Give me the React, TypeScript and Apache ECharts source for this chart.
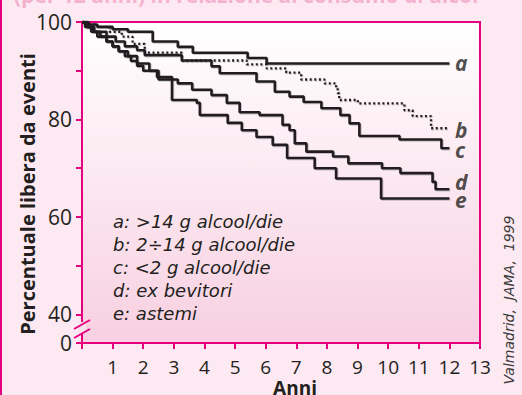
import React, { useEffect, useRef } from "react";
import * as echarts from "echarts";

const years: number[] = [0, 1, 2, 3, 4, 5, 6, 7, 8, 9, 10, 11, 12, 13];
const yTickLabels: string[] = ["0", "40", "60", "80", "100"];
const curveNames: string[] = ["a", "b", "c", "d", "e"];
const legendLines: string[] = [
  "a: >14 g alcool/die",
  "b: 2÷14 g alcool/die",
  "c: <2 g alcool/die",
  "d: ex bevitori",
  "e: astemi",
];

const serieA: [number, number][] = [
  [0, 100], [0.15, 99.5], [0.5, 99], [1.0, 98.5], [1.5, 98], [2.31, 96], [3.13, 94.9],
  [3.62, 93.7], [5.41, 92.6], [6.03, 91.5], [12.0, 91.5],
];
const serieB: [number, number][] = [
  [0, 100], [0.2, 99.5], [0.5, 99], [0.9, 98], [1.3, 97], [1.65, 95.5], [2.05, 93.7],
  [3.26, 92.1], [5.38, 91.3], [6.03, 90.5], [6.67, 89.6], [7.16, 88.2], [7.92, 87.4],
  [8.3, 86.4], [8.35, 85.4], [8.4, 84.0], [9.01, 83.3], [10.53, 81.9], [10.8, 80.7],
  [11.4, 78.2], [12.0, 78.2],
];
const serieC: [number, number][] = [
  [0, 100], [0.2, 99], [0.4, 98], [0.8, 97], [1.1, 96], [1.4, 95], [1.8, 94.2], [2.05, 93.2],
  [3.26, 92.1], [4.23, 90.9], [4.5, 89.5], [5.7, 87.8], [6.3, 85.7], [6.78, 84.7],
  [7.24, 83.6], [7.82, 82.3], [8.44, 80.9], [8.74, 79.2], [9.06, 76.6], [10.37, 75.9],
  [11.74, 74.1], [12.0, 74.1],
];
const serieD: [number, number][] = [
  [0, 100], [0.1, 99], [0.3, 98], [0.5, 97], [0.8, 96], [1.0, 95], [1.2, 94], [1.5, 93],
  [1.8, 91.5], [2.2, 90], [2.5, 88.2], [3.13, 87.4], [3.6, 86.1], [4.23, 85.0], [4.73, 83.4],
  [5.15, 81.5], [5.8, 80.9], [6.55, 78.9], [6.78, 77.8], [6.95, 75.1], [7.33, 73.4],
  [8.2, 72.4], [8.7, 71.0], [9.8, 70.0], [10.4, 69.0], [11.45, 67.2], [11.55, 65.7],
  [12.0, 65.7],
];
const serieE: [number, number][] = [
  [0, 100], [0.15, 99], [0.35, 98], [0.6, 97], [0.8, 96], [1.0, 95], [1.2, 94], [1.4, 93],
  [1.6, 92], [1.8, 91], [2.0, 90], [2.45, 88.7], [2.94, 84.0], [3.75, 83.4], [3.85, 80.9],
  [4.76, 79.3], [5.22, 77.8], [5.7, 76.4], [6.23, 74.8], [6.7, 72.1], [7.6, 70.0],
  [8.3, 67.9], [9.77, 63.8], [12.0, 63.8],
];

const Y_MIN = 34.15; // axis bottom, labelled "0" (broken axis)
const MAGENTA = "#e5007e";
const INK = "#231f20";
const FONT = "'Open Sans', 'DejaVu Sans', sans-serif";
const WIDE = "'DejaVu Sans', 'Open Sans', sans-serif";

export default function App() {
  const ref = useRef<HTMLDivElement>(null);

  useEffect(() => {
    if (!ref.current) return;
    const chart = echarts.init(ref.current, undefined, { renderer: "svg" });
    const allSeries = [serieA, serieB, serieC, serieD, serieE];

    const lineSeries = allSeries.map((d, i) => ({
      type: "line",
      name: curveNames[i],
      step: "end",
      symbol: "none",
      data: d,
      lineStyle: {
        color: INK,
        width: i === 1 ? 2.3 : 2.6,
        type: i === 1 ? [2, 2.6] : "solid",
        shadowColor: "rgba(0,0,0,0.25)",
        shadowBlur: 1,
        shadowOffsetX: 0.8,
        shadowOffsetY: 0.8,
      },
      z: 3,
    }));

    const labelOffsets = [0.1, -0.35, -0.3, 1.5, -0.3];
    const endLabelSeries = {
      type: "scatter",
      symbol: "circle",
      symbolSize: 1,
      silent: true,
      itemStyle: { color: "rgba(0,0,0,0)" },
      z: 5,
      data: allSeries.map((d, i) => ({
        value: [d[d.length - 1][0], d[d.length - 1][1] + labelOffsets[i]],
        label: {
          show: true,
          formatter: curveNames[i],
          position: "right",
          distance: 5,
          color: INK,
          fontSize: 21,
          lineHeight: 16,
          fontStyle: "italic",
          fontWeight: "bold",
          fontFamily: FONT,
        },
      })),
    };

    const legendTexts = legendLines.map((t, i) => ({
      type: "text",
      left: 113,
      top: 212 + i * 23.2,
      style: {
        text: t,
        fill: INK,
        font: `oblique 18px ${WIDE}`,
      },
      z: 10,
    }));

    chart.setOption({
      animation: false,
      backgroundColor: "#fde9f1",
      grid: {
        left: 82,
        top: 22,
        right: 42,
        bottom: 52,
        show: true,
        borderColor: MAGENTA,
        borderWidth: 2,
        backgroundColor: new echarts.graphic.LinearGradient(0, 0, 0, 1, [
          { offset: 0, color: "#ffffff" },
          { offset: 1, color: "#f8d0e1" },
        ]),
      },
      xAxis: {
        type: "value",
        min: years[0],
        max: years[years.length - 1],
        interval: 1,
        axisLine: { show: true, lineStyle: { color: MAGENTA, width: 2 } },
        axisTick: { show: true, length: 6, lineStyle: { color: MAGENTA, width: 2 } },
        splitLine: { show: false },
        axisLabel: {
          margin: 14,
          color: INK,
          fontSize: 19,
          fontFamily: FONT,
          formatter: (v: number) => (v === 0 ? "" : String(v)),
        },
      },
      yAxis: {
        type: "value",
        min: Y_MIN,
        max: 100,
        axisLine: { show: true, lineStyle: { color: MAGENTA, width: 2 } },
        axisTick: {
          show: true,
          length: 6,
          lineStyle: { color: MAGENTA, width: 2 },
          customValues: [Y_MIN, 40, 50, 60, 70, 80, 90, 100],
        },
        splitLine: { show: false },
        axisLabel: {
          margin: 10,
          color: INK,
          fontSize: 21,
          fontFamily: FONT,
          customValues: [Y_MIN, 40, 60, 80, 100],
          formatter: (v: number) => {
            const idx = [Y_MIN, 40, 60, 80, 100].findIndex((x) => Math.abs(x - v) < 0.01);
            return idx >= 0 ? yTickLabels[idx] : "";
          },
        },
      },
      series: [...lineSeries, endLabelSeries],
      graphic: [
        { type: "rect", shape: { x: 0, y: 0, width: 2, height: 395 }, style: { fill: MAGENTA }, z: 10 },
        {
          type: "text",
          x: 14,
          y: 5,
          style: {
            text: "(per 12 anni) in relazione al consumo di alcol",
            fill: "#f3b3cf",
            font: `bold 21px ${FONT}`,
            textVerticalAlign: "bottom",
          },
          z: 10,
        },
        { type: "rect", shape: { x: 78, y: 322, width: 8, height: 12 }, style: { fill: "#fbe2ec" }, z: 10 },
        { type: "line", shape: { x1: 74, y1: 329, x2: 90, y2: 320 }, style: { stroke: MAGENTA, lineWidth: 2 }, z: 11 },
        { type: "line", shape: { x1: 74, y1: 338, x2: 90, y2: 329 }, style: { stroke: MAGENTA, lineWidth: 2 }, z: 11 },
        {
          type: "text",
          x: 27,
          y: 194,
          rotation: Math.PI / 2,
          style: {
            text: "Percentuale libera da eventi",
            fill: INK,
            font: `bold 20px ${FONT}`,
            textAlign: "center",
            textVerticalAlign: "middle",
          },
          z: 10,
        },
        {
          type: "text",
          x: 295,
          y: 388,
          style: {
            text: "Anni",
            fill: INK,
            font: `bold 19px ${FONT}`,
            textAlign: "center",
            textVerticalAlign: "middle",
          },
          z: 10,
        },
        {
          type: "text",
          x: 509,
          y: 300,
          rotation: Math.PI / 2,
          style: {
            text: "Valmadrid,  JAMA,  1999",
            fill: "#3a3a3a",
            font: `oblique 14px ${WIDE}`,
            textAlign: "center",
            textVerticalAlign: "middle",
          },
          z: 10,
        },
        ...legendTexts,
      ],
    });

    return () => chart.dispose();
  }, []);

  return (
    <div
      ref={ref}
      style={{ position: "fixed", left: 0, top: 0, width: 522, height: 395 }}
    />
  );
}
